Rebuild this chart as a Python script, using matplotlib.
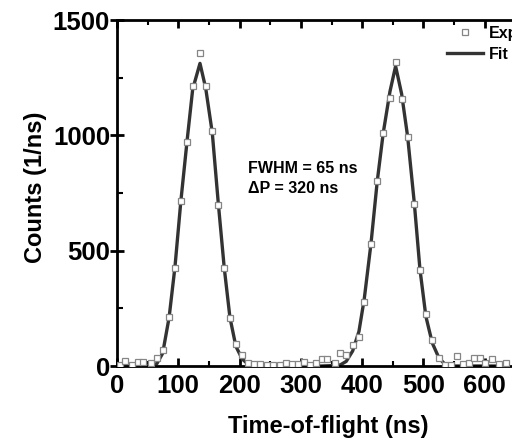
import matplotlib
matplotlib.use("Agg")
import matplotlib.pyplot as plt
from matplotlib.ticker import MultipleLocator
from matplotlib.lines import Line2D

plt.rcParams['font.family'] = ['Liberation Sans', 'DejaVu Sans']

# Experimental data (time in ns, counts in 1/ns)
exp_t = [5, 13, 24, 35, 43, 55, 65, 74.5, 85, 94.6, 104.2, 114.7, 123.5, 135.4,
         144.7, 155.5, 165.3, 175, 184.3, 194, 204.4, 213, 224, 233, 244, 255,
         266, 276, 285, 295, 305, 315, 324.6, 334, 343, 355, 364.5, 374, 384.5,
         394.8, 403.4, 414.4, 424.6, 434.4, 445.4, 454.6, 464.4, 474.2, 485,
         494.3, 504, 514.4, 525.3, 535, 545, 555, 565, 574.7, 582.4, 592, 600,
         612, 623, 634]
exp_c = [4, 23, 4, 19, 19, 12, 33, 69, 214, 426, 715, 970, 1214, 1358,
         1214, 1019, 700, 423, 207, 94, 48, 14, 7, 7, 4, 4,
         5, 12, 7, 9, 16, 5, 12, 31, 30, 12, 55, 47, 91,
         127, 279, 529, 803, 1011, 1160, 1319, 1156, 994, 702,
         416, 224, 113, 36, 4, 4, 45, 7, 14, 36, 36, 14,
         29, 7, 12]

# Fit curve values read at the same time points
fit_c = [0, 0, 0, 0, 0, 2, 10, 55, 210, 430, 715, 985, 1200, 1312,
         1205, 1010, 705, 425, 210, 85, 30, 10, 2, 0, 0, 0,
         0, 0, 0, 0, 0, 0, 0, 0, 1, 2, 5, 20, 65,
         150, 290, 530, 800, 1010, 1190, 1300, 1180, 995, 710,
         420, 215, 100, 35, 8, 0, 0, 0, 0, 0, 0, 0,
         0, 0, 0]

x_ticks = [0, 100, 200, 300, 400, 500, 600, 700]
y_ticks = [0, 500, 1000, 1500]
annot_lines = ["FWHM = 65 ns", "\u0394P = 320 ns"]

W, H = 512, 445
fig = plt.figure(figsize=(W / 100, H / 100), dpi=100)
ax = fig.add_axes([117 / W, (H - 366) / H, 429 / W, 346 / H])

ax.plot(exp_t, fit_c, color='#333333', lw=2.4, zorder=2)
ax.plot(exp_t, exp_c, ls='none', marker='s', ms=4.5, mfc='white',
        mec='#858585', mew=0.9, zorder=3)

ax.set_xlim(0, 700)
ax.set_ylim(0, 1500)
ax.set_xticks(x_ticks)
ax.set_yticks(y_ticks)
ax.xaxis.set_minor_locator(MultipleLocator(50))
ax.yaxis.set_minor_locator(MultipleLocator(250))

for s in ax.spines.values():
    s.set_linewidth(2.0)
    s.set_color('black')

ax.tick_params(axis='x', which='major', direction='in', length=6, width=2,
               top=True, labelsize=18.5, pad=6)
ax.tick_params(axis='x', which='minor', direction='in', length=3.5, width=1.5,
               top=True)
ax.tick_params(axis='y', which='major', direction='inout', length=10, width=2,
               labelsize=18.5, pad=0)
ax.tick_params(axis='y', which='minor', direction='in', length=4, width=1.5)
for lab in ax.get_xticklabels() + ax.get_yticklabels():
    lab.set_fontweight('bold')

ax.set_xlabel('Time-of-flight (ns)', fontsize=17, fontweight='bold',
              labelpad=12)
ax.set_ylabel('Counts (1/ns)', fontsize=17, fontweight='bold',
              labelpad=4)
ax.yaxis.label.set_y(0.517)
ax.xaxis.label.set_x(0.493)

ax.text(213.7, 836, annot_lines[0], fontsize=11.5, fontweight='bold',
        va='baseline', ha='left')
ax.text(213.7, 750, annot_lines[1], fontsize=11.5, fontweight='bold',
        va='baseline', ha='left')

handles = [Line2D([], [], ls='none', marker='s', ms=4.5, mfc='white',
                  mec='#858585', mew=0.9),
           Line2D([], [], color='#333333', lw=2.4)]
fig.legend(handles, ['Exp', 'Fit'], loc='upper left',
           bbox_to_anchor=(447 / W, (H - 26) / H), frameon=False,
           prop={'weight': 'bold', 'size': 11.5},
           handlelength=2.25, handletextpad=0.4, labelspacing=0.35,
           borderpad=0, borderaxespad=0)

fig.savefig('out.png', dpi=100)
